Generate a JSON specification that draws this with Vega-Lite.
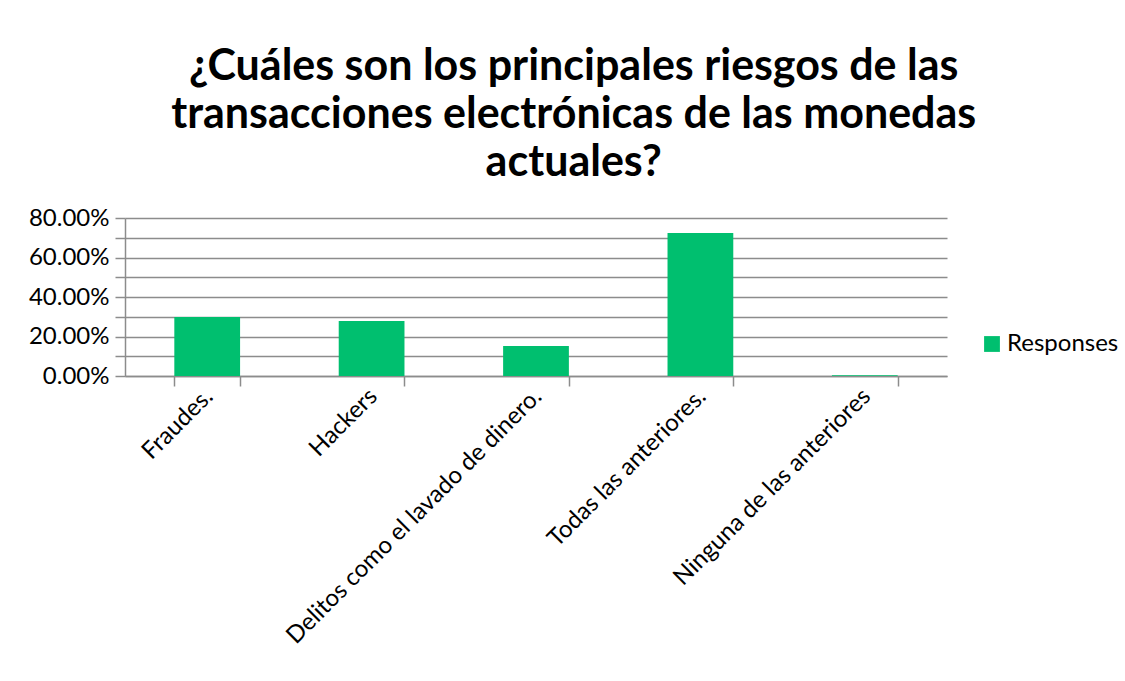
{
  "$schema": "https://vega.github.io/schema/vega-lite/v6.json",
  "width": 822,
  "height": 158,
  "padding": {"left": 28, "top": 46, "right": 10, "bottom": 10},
  "background": "white",
  "title": {
    "text": ["¿Cuáles son los principales riesgos de las", "transacciones electrónicas de las monedas", "actuales?"],
    "font": "Lato",
    "fontSize": 43,
    "fontWeight": "bold",
    "color": "#000000",
    "lineHeight": 48,
    "anchor": "middle",
    "frame": "bounds",
    "offset": 21
  },
  "data": {
    "values": [
      {"category": "Fraudes.", "value": 0.299, "series": "Responses"},
      {"category": "Hackers", "value": 0.278, "series": "Responses"},
      {"category": "Delitos como el lavado de dinero.", "value": 0.152, "series": "Responses"},
      {"category": "Todas las anteriores.", "value": 0.724, "series": "Responses"},
      {"category": "Ninguna de las anteriores", "value": 0.004, "series": "Responses"}
    ]
  },
  "mark": {"type": "bar"},
  "encoding": {
    "x": {
      "field": "category",
      "type": "nominal",
      "sort": null,
      "title": null,
      "scale": {"paddingInner": 0.6, "paddingOuter": 0.3},
      "axis": {
        "labelAngle": -45,
        "labelAlign": "right",
        "labelBaseline": "top",
        "labelFont": "Lato",
        "labelFontSize": 24,
        "labelColor": "#000000",
        "labelPadding": -2,
        "labelOffset": -7,
        "tickBand": "extent",
        "tickSize": 10,
        "tickColor": "#8c8c8c",
        "tickWidth": 1.5,
        "domainColor": "#8c8c8c",
        "domainWidth": 1.5,
        "grid": false,
        "labelLimit": 0
      }
    },
    "y": {
      "field": "value",
      "type": "quantitative",
      "title": null,
      "scale": {"domain": [0, 0.8], "nice": false},
      "axis": {
        "values": [0, 0.1, 0.2, 0.3, 0.4, 0.5, 0.6, 0.7, 0.8],
        "labelExpr": "round(datum.value*100) % 20 == 0 ? format(datum.value, '.2%') : ''",
        "labelFont": "Lato",
        "labelFontSize": 24,
        "labelColor": "#000000",
        "labelPadding": 6,
        "tickSize": 10,
        "tickColor": "#8c8c8c",
        "tickWidth": 1.5,
        "domainColor": "#8c8c8c",
        "domainWidth": 1.5,
        "grid": true,
        "gridColor": "#8c8c8c",
        "gridWidth": 1.5
      }
    },
    "color": {
      "field": "series",
      "type": "nominal",
      "title": null,
      "scale": {"range": ["#00BF6F"]},
      "legend": {
        "orient": "none",
        "legendX": 855,
        "legendY": 114,
        "symbolType": "square",
        "symbolSize": 250,
        "symbolStrokeWidth": 0,
        "labelFont": "Lato",
        "labelFontSize": 24,
        "labelColor": "#000000",
        "labelOffset": 3
      }
    }
  },
  "config": {
    "view": {"stroke": null}
  }
}
